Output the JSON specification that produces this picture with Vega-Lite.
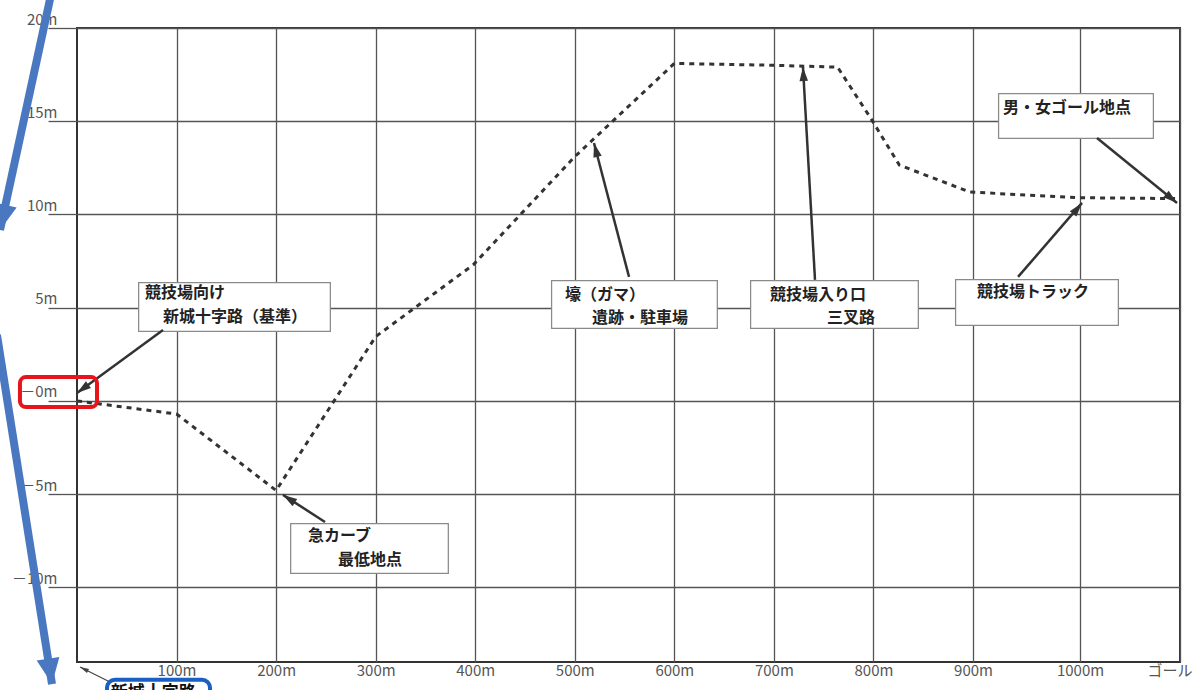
{
  "$schema": "https://vega.github.io/schema/vega-lite/v6.json",
  "width": 1103,
  "height": 634,
  "autosize": {"type": "none"},
  "padding": {"left": 77, "top": 28, "right": 17, "bottom": 28},
  "background": "white",
  "config": {
    "view": {"stroke": "#333", "strokeWidth": 2},
    "font": "Noto Sans CJK JP"
  },
  "datasets": {
    "profile": [
      {"x": 0, "y": 0}, {"x": 100, "y": -0.7}, {"x": 200, "y": -4.8}, {"x": 300, "y": 3.45},
      {"x": 398, "y": 7.3}, {"x": 500, "y": 13.1}, {"x": 600, "y": 18.1}, {"x": 700, "y": 18.0},
      {"x": 764, "y": 17.9}, {"x": 798, "y": 15.1}, {"x": 826, "y": 12.65}, {"x": 897, "y": 11.2},
      {"x": 1000, "y": 10.9}, {"x": 1100, "y": 10.85}
    ],
    "boxes": [
      {"x": 63.3, "x2": 253.1, "y": 6.27, "y2": 3.8},
      {"x": 216, "x2": 371.6, "y": -6.65, "y2": -9.17},
      {"x": 478.1, "x2": 641.8, "y": 6.38, "y2": 3.97},
      {"x": 678, "x2": 843.7, "y": 6.38, "y2": 3.97},
      {"x": 883.9, "x2": 1037, "y": 6.43, "y2": 4.13},
      {"x": 925.2, "x2": 1072, "y": 16.41, "y2": 14.15}
    ],
    "labels": [
      {"x": 68.3, "y": 5.79, "text": "競技場向け"},
      {"x": 86.4, "y": 4.5, "text": "新城十字路（基準）"},
      {"x": 232, "y": -7.24, "text": "急カーブ"},
      {"x": 262.2, "y": -8.53, "text": "最低地点"},
      {"x": 490.2, "y": 5.68, "text": "壕（ガマ）"},
      {"x": 517.3, "y": 4.45, "text": "遺跡・駐車場"},
      {"x": 696.1, "y": 5.68, "text": "競技場入り口"},
      {"x": 753.4, "y": 4.45, "text": "三叉路"},
      {"x": 903.7, "y": 5.84, "text": "競技場トラック"},
      {"x": 928, "y": 15.71, "text": "男・女ゴール地点"}
    ],
    "arrows": [
      {"kind": "callout", "x": 86.4, "y": 3.8, "x2": 0, "y2": 0.43},
      {"kind": "callout", "x": 249.1, "y": -6.49, "x2": 206.9, "y2": -5.04},
      {"kind": "callout", "x": 554.5, "y": 6.65, "x2": 519.3, "y2": 13.83},
      {"kind": "callout", "x": 741.3, "y": 6.49, "x2": 729.2, "y2": 17.91},
      {"kind": "callout", "x": 942.1, "y": 6.65, "x2": 1002, "y2": 10.62},
      {"kind": "callout", "x": 1017, "y": 14.1, "x2": 1097, "y2": 10.62},
      {"kind": "origin", "x": 33.1, "y": -15.07, "x2": 3, "y2": -14.27},
      {"kind": "highlight", "x": -25.1, "y": 22.04, "x2": -77.3, "y2": 9.17},
      {"kind": "highlight", "x": -80.4, "y": 3.54, "x2": -25.1, "y2": -15.18}
    ],
    "redbox": [{"x": -57.3, "x2": 20.1, "y": 1.28, "y2": -0.33}],
    "bluebox": [{"x": 30.1, "x2": 133.6, "y": -14.95, "y2": -16.84, "tx": 34, "ty": -15.65, "text": "新城十字路"}]
  },
  "layer": [
    {
      "data": {"name": "profile"},
      "mark": {"type": "line", "color": "#333", "strokeWidth": 3, "strokeDash": [5, 5]},
      "encoding": {
        "x": {
          "field": "x", "type": "quantitative", "title": null,
          "scale": {"domain": [0, 900, 1000, 1100], "range": [0, 896, 1003, 1103], "nice": false, "zero": false},
          "axis": {
            "values": [100, 200, 300, 400, 500, 600, 700, 800, 900, 1000, 1100],
            "grid": true, "gridColor": "#555", "gridWidth": 1.3, "gridOpacity": 1,
            "domain": false, "ticks": false, "labelPadding": 1, "labelFlushOffset": 12,
            "labelFontSize": 15, "labelColor": "#555", "labelFont": "Noto Sans CJK JP",
            "labelExpr": "datum.value == 1100 ? 'ゴール' : datum.value + 'm'"
          }
        },
        "y": {
          "field": "y", "type": "quantitative", "title": null,
          "scale": {"domain": [-14, 20], "nice": false, "zero": false},
          "axis": {
            "values": [-10, -5, 0, 5, 10, 15, 20],
            "grid": true, "gridColor": "#555", "gridWidth": 1.3, "gridOpacity": 1,
            "domain": false, "ticks": true, "tickSize": 29, "tickColor": "#555", "tickWidth": 1.3,
            "labelPadding": -9, "labelBaseline": "bottom", "labelOffset": -1, "labelAlign": "right",
            "labelFontSize": 15, "labelColor": "#555", "labelFont": "Noto Sans CJK JP",
            "labelExpr": "datum.value < 0 ? '－' + (-datum.value) + 'm' : (datum.value == 0 ? '－0m' : datum.value + 'm')"
          }
        }
      }
    },
    {
      "data": {"name": "boxes"},
      "mark": {"type": "rect", "fill": "white", "stroke": "#8a8a8a", "strokeWidth": 4},
      "encoding": {
        "x": {"field": "x", "type": "quantitative", "title": null},
        "x2": {"field": "x2"},
        "y": {"field": "y", "type": "quantitative", "title": null},
        "y2": {"field": "y2"}
      }
    },
    {
      "data": {"name": "boxes"},
      "mark": {"type": "rect", "fill": "white", "stroke": "white", "strokeWidth": 1.5},
      "encoding": {
        "x": {"field": "x", "type": "quantitative", "title": null},
        "x2": {"field": "x2"},
        "y": {"field": "y", "type": "quantitative", "title": null},
        "y2": {"field": "y2"}
      }
    },
    {
      "data": {"name": "labels"},
      "mark": {"type": "text", "align": "left", "baseline": "middle", "fontSize": 16, "fontWeight": "bold", "color": "#222", "font": "Noto Sans CJK JP"},
      "encoding": {
        "x": {"field": "x", "type": "quantitative", "title": null},
        "y": {"field": "y", "type": "quantitative", "title": null},
        "text": {"field": "text"}
      }
    },
    {
      "data": {"name": "arrows"},
      "transform": [{"filter": "datum.kind == 'callout'"}],
      "mark": {"type": "rule", "color": "#333", "strokeWidth": 2.5},
      "encoding": {
        "x": {"field": "x", "type": "quantitative", "title": null},
        "x2": {"field": "x2"},
        "y": {"field": "y", "type": "quantitative", "title": null},
        "y2": {"field": "y2"}
      }
    },
    {
      "data": {"name": "arrows"},
      "transform": [
        {"filter": "datum.kind == 'callout'"},
        {"calculate": "atan2((datum.x2 - datum.x) * 0.996, (datum.y2 - datum.y) * 18.647) * 180 / PI", "as": "ang"}
      ],
      "mark": {"type": "point", "shape": "M0,0L-0.6,2L0.6,2Z", "filled": true, "color": "#333", "opacity": 1, "size": 200},
      "encoding": {
        "x": {"field": "x2", "type": "quantitative", "title": null},
        "y": {"field": "y2", "type": "quantitative", "title": null},
        "angle": {"field": "ang", "type": "quantitative", "scale": null}
      }
    },
    {
      "data": {"name": "arrows"},
      "transform": [{"filter": "datum.kind == 'origin'"}],
      "mark": {"type": "rule", "color": "#444", "strokeWidth": 1.2},
      "encoding": {
        "x": {"field": "x", "type": "quantitative", "title": null},
        "x2": {"field": "x2"},
        "y": {"field": "y", "type": "quantitative", "title": null},
        "y2": {"field": "y2"}
      }
    },
    {
      "data": {"name": "arrows"},
      "transform": [
        {"filter": "datum.kind == 'origin'"},
        {"calculate": "atan2((datum.x2 - datum.x) * 0.996, (datum.y2 - datum.y) * 18.647) * 180 / PI", "as": "ang"}
      ],
      "mark": {"type": "point", "shape": "M0,0L-0.5,2L0.5,2Z", "filled": true, "color": "#444", "opacity": 1, "size": 80},
      "encoding": {
        "x": {"field": "x2", "type": "quantitative", "title": null},
        "y": {"field": "y2", "type": "quantitative", "title": null},
        "angle": {"field": "ang", "type": "quantitative", "scale": null}
      }
    },
    {
      "data": {"name": "redbox"},
      "mark": {"type": "rect", "fill": "white", "fillOpacity": 0, "stroke": "#e8141b", "strokeWidth": 4, "cornerRadius": 6},
      "encoding": {
        "x": {"field": "x", "type": "quantitative", "title": null},
        "x2": {"field": "x2"},
        "y": {"field": "y", "type": "quantitative", "title": null},
        "y2": {"field": "y2"}
      }
    },
    {
      "data": {"name": "bluebox"},
      "mark": {"type": "rect", "fill": "white", "stroke": "#1a5fc4", "strokeWidth": 4, "cornerRadius": 8},
      "encoding": {
        "x": {"field": "x", "type": "quantitative", "title": null},
        "x2": {"field": "x2"},
        "y": {"field": "y", "type": "quantitative", "title": null},
        "y2": {"field": "y2"}
      }
    },
    {
      "data": {"name": "bluebox"},
      "mark": {"type": "text", "align": "left", "baseline": "middle", "fontSize": 17, "fontWeight": "bold", "color": "#111", "font": "Noto Sans CJK JP"},
      "encoding": {
        "x": {"field": "tx", "type": "quantitative", "title": null},
        "y": {"field": "ty", "type": "quantitative", "title": null},
        "text": {"field": "text"}
      }
    },
    {
      "data": {"name": "arrows"},
      "transform": [{"filter": "datum.kind == 'highlight'"}],
      "mark": {"type": "rule", "color": "#4a78c0", "strokeWidth": 8},
      "encoding": {
        "x": {"field": "x", "type": "quantitative", "title": null},
        "x2": {"field": "x2"},
        "y": {"field": "y", "type": "quantitative", "title": null},
        "y2": {"field": "y2"}
      }
    },
    {
      "data": {"name": "arrows"},
      "transform": [
        {"filter": "datum.kind == 'highlight'"},
        {"calculate": "atan2((datum.x2 - datum.x) * 0.996, (datum.y2 - datum.y) * 18.647) * 180 / PI", "as": "ang"}
      ],
      "mark": {"type": "point", "shape": "M0,0L-0.9,2L0.9,2Z", "filled": true, "color": "#4a78c0", "opacity": 1, "size": 650},
      "encoding": {
        "x": {"field": "x2", "type": "quantitative", "title": null},
        "y": {"field": "y2", "type": "quantitative", "title": null},
        "angle": {"field": "ang", "type": "quantitative", "scale": null}
      }
    }
  ]
}
